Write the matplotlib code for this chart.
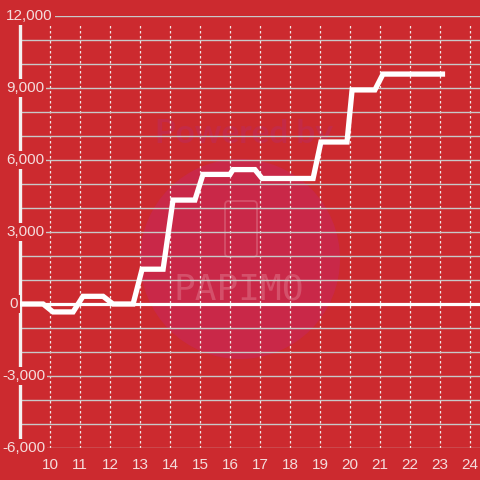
import matplotlib
matplotlib.use("Agg")
import matplotlib.pyplot as plt
from matplotlib.patches import Circle, FancyBboxPatch
from matplotlib.transforms import blended_transform_factory

# data
hours = [9.0, 9.77, 10.1, 10.77, 11.1, 11.77, 12.1, 12.77, 13.07, 13.77, 14.1, 14.83,
         15.1, 16.0, 16.1, 16.83, 17.07, 18.77, 19.03, 19.9, 20.07, 20.83, 21.1, 23.17]
values = [0, 0, -330, -330, 320, 320, 0, 0, 1450, 1450, 4330, 4330,
          5400, 5400, 5600, 5600, 5230, 5230, 6750, 6750, 8920, 8920, 9580, 9580]
x_ticks = list(range(10, 25))
y_labels = [12000, 9000, 6000, 3000, 0, -3000, -6000]

bg = '#cc2a2f'
txt = '#f4dcdc'
plt.rcParams['font.family'] = ['Liberation Sans', 'DejaVu Sans']

fig = plt.figure(figsize=(4.8, 4.8), dpi=100, facecolor=bg)
ax = fig.add_axes([20/480, 32/480, 460/480, 432/480])
ax.set_facecolor(bg)
ax.set_xlim(9, 24.3333)
ax.set_ylim(-6000, 12000)

# watermark, placed in pixels
def fp(x, y):
    return (x/480, 1 - y/480)
circ = Circle(fp(240, 259), 100/480, transform=fig.transFigure, color='#c92848', zorder=0.5, lw=0)
ax.add_artist(circ)
phone = FancyBboxPatch(fp(225, 257), 32/480, 56/480, boxstyle='round,pad=0,rounding_size=0.008',
                       transform=fig.transFigure, fill=False, ec='#d4506a', lw=1.3, zorder=0.6)
ax.add_artist(phone)
ax.text(*fp(244, 133), 'Powered by', transform=fig.transFigure, ha='center', va='center',
        fontsize=24, fontweight='bold', color='#c42a46', zorder=0.6, family='Lato')
ax.text(*fp(239, 290), 'PAPIMO', transform=fig.transFigure, ha='center', va='center',
        fontsize=26, color='#d4506a', zorder=0.6, family='DejaVu Sans Mono', fontweight='light')

# grid
ax.set_yticks(range(-6000, 12001, 1000))
ax.set_xticks(x_ticks)
ax.grid(axis='y', color='#c8c8c8', lw=1.0)
for h in x_ticks:
    ax.axvline(h, ymax=0.984, color='#f0e6e6', lw=0.9, ls=(0, (2, 2)), zorder=1.5)
ax.axhline(0, color='white', lw=2.3, zorder=2)

for s in ['top', 'right', 'bottom']:
    ax.spines[s].set_visible(False)
ax.spines['left'].set_color('#f4f0f0')
ax.spines['left'].set_linewidth(2.4)
ax.spines['left'].set_zorder(2)

ax.tick_params(axis='y', length=0, labelleft=False)
ax.tick_params(axis='x', length=0, pad=7, labelsize=11, labelcolor=txt)
ax.set_xticklabels([str(h) for h in x_ticks])

ax.plot(hours, values, color='white', lw=3.8, solid_joinstyle='miter', solid_capstyle='butt', zorder=3)

tr = blended_transform_factory(fig.transFigure, ax.transData)
for v in y_labels:
    if v < 0:
        xp = 2
    elif v == 0:
        xp = 9
    else:
        xp = 6
    ax.text(xp/480, v, f'{v:,}', transform=tr, ha='left', va='center', fontsize=11, color=txt,
            bbox=dict(facecolor=bg, edgecolor='none', pad=1.5), zorder=4, clip_on=False)

fig.savefig('out.png', dpi=100, facecolor=bg)
